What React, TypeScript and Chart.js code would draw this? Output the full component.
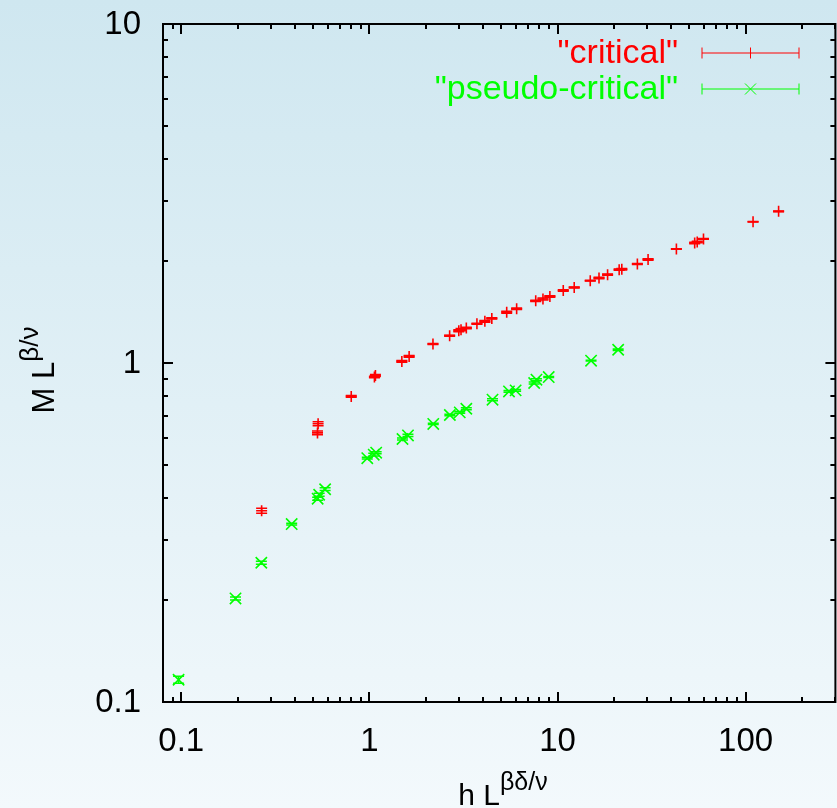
import React, { useEffect, useRef } from "react";
import { Chart, registerables } from "chart.js";

Chart.register(...registerables);

// Scaled magnetisation data: "critical" series
const criticalX = [
  0.2675, 0.534, 0.53, 0.801, 1.077, 1.064, 1.488, 1.627, 2.178, 2.671, 2.987, 3.07,
  3.276, 3.73, 4.11, 4.476, 5.37, 6.065, 7.66, 8.37, 9.11, 10.73, 12.27, 14.93,
  16.62, 18.46, 21.27, 21.97, 26.58, 30.3, 42.85, 53.6, 55.3, 59.7, 109.5, 149.7,
];
const criticalY = [
  0.3666, 0.662, 0.622, 0.797, 0.919, 0.909, 1.011, 1.046, 1.138, 1.204, 1.245, 1.254,
  1.268, 1.306, 1.327, 1.354, 1.412, 1.446, 1.525, 1.545, 1.572, 1.636, 1.671, 1.749,
  1.781, 1.822, 1.885, 1.891, 1.96, 2.021, 2.169, 2.259, 2.275, 2.323, 2.611, 2.801,
];
const criticalErr = [
  0.006, 0.009, 0.008, 0.005, 0.006, 0.005, 0.006, 0.007, 0.004, 0.004, 0.008, 0.009,
  0.007, 0.005, 0.008, 0.006, 0.009, 0.008, 0.006, 0.01, 0.008, 0.009, 0.006, 0.005,
  0.009, 0.007, 0.009, 0.01, 0.006, 0.01, 0.004, 0.01, 0.012, 0.006, 0.005, 0.006,
];

// "pseudo-critical" series
const pseudoX = [
  0.0968, 0.1943, 0.2665, 0.3864, 0.531, 0.541, 0.5818, 0.9748, 1.055, 1.087, 1.5, 1.604,
  2.186, 2.678, 3.023, 3.276, 4.514, 5.522, 5.99, 7.516, 7.73, 8.98, 15.08, 21.01,
];
const pseudoY = [
  0.1163, 0.2021, 0.2575, 0.3349, 0.3978, 0.4087, 0.4243, 0.5238, 0.5364, 0.5437, 0.5968, 0.6115,
  0.6612, 0.7023, 0.7151, 0.7329, 0.7794, 0.8245, 0.8302, 0.873, 0.893, 0.909, 1.016, 1.094,
];
const pseudoErr = [
  0.0028, 0.002, 0.0025, 0.002, 0.004, 0.004, 0.004, 0.003, 0.005, 0.004, 0.004, 0.005,
  0.003, 0.004, 0.004, 0.005, 0.005, 0.005, 0.005, 0.006, 0.006, 0.003, 0.003, 0.005,
];

const seriesNames = ['"critical"', '"pseudo-critical"'];
const seriesColors = ["#ff0000", "#00ff00"];

const xRange = [0.08, 300];
const yRange = [0.1, 10];
const xTickValues = [0.1, 1, 10, 100];
const xTickLabels = ["0.1", "1", "10", "100"];
const yTickValues = [0.1, 1, 10];
const yTickLabels = ["0.1", "1", "10"];

const FONT = '"Liberation Sans", Arial, Helvetica, sans-serif';
const CANVAS_W = 845;
const CANVAS_H = 808;

function toPoints(xs: number[], ys: number[]) {
  return xs.map((x, i) => ({ x, y: ys[i] }));
}

// vertical error bars with small caps, drawn under the markers
const errorBarPlugin = {
  id: "errorBars",
  beforeDatasetsDraw(chart: any) {
    const ctx = chart.ctx;
    const xs = chart.scales.x;
    const ys = chart.scales.y;
    chart.data.datasets.forEach((ds: any) => {
      const errs: number[] = ds.errors || [];
      ctx.save();
      ctx.strokeStyle = ds.borderColor;
      ctx.lineWidth = 1.5;
      ds.data.forEach((p: any, i: number) => {
        const e = errs[i] || 0;
        const px = xs.getPixelForValue(p.x);
        const y1 = ys.getPixelForValue(p.y - e);
        const y2 = ys.getPixelForValue(p.y + e);
        const cap = 5.5;
        ctx.beginPath();
        ctx.moveTo(px, y1);
        ctx.lineTo(px, y2);
        ctx.moveTo(px - cap, y1);
        ctx.lineTo(px + cap, y1);
        ctx.moveTo(px - cap, y2);
        ctx.lineTo(px + cap, y2);
        ctx.stroke();
      });
      ctx.restore();
    });
  },
};

function logTicks(min: number, max: number) {
  const out: { v: number; major: boolean }[] = [];
  for (let d = Math.floor(Math.log10(min)); d <= Math.ceil(Math.log10(max)); d++) {
    for (let k = 1; k <= 9; k++) {
      const v = k * Math.pow(10, d);
      if (v >= min * 0.9999 && v <= max * 1.0001) out.push({ v, major: k === 1 });
    }
  }
  return out;
}

function drawWithSup(
  ctx: CanvasRenderingContext2D,
  base: string,
  sup: string,
  cx: number,
  baseline: number,
  baseSize: number,
  supSize: number,
  rise: number
) {
  ctx.font = `${baseSize}px ${FONT}`;
  const wb = ctx.measureText(base).width;
  ctx.font = `${supSize}px ${FONT}`;
  const ws = ctx.measureText(sup).width;
  const start = cx - (wb + ws) / 2;
  ctx.textAlign = "left";
  ctx.textBaseline = "alphabetic";
  ctx.font = `${baseSize}px ${FONT}`;
  ctx.fillText(base, start, baseline);
  ctx.font = `${supSize}px ${FONT}`;
  ctx.fillText(sup, start + wb, baseline - rise);
}

// frame with inward log ticks, tick labels, axis titles and key
const framePlugin = {
  id: "gnuFrame",
  afterDraw(chart: any) {
    const ctx: CanvasRenderingContext2D = chart.ctx;
    const xs = chart.scales.x;
    const ys = chart.scales.y;
    const { left, right, top, bottom } = chart.chartArea;
    ctx.save();
    ctx.strokeStyle = "#000";
    ctx.lineWidth = 2;
    ctx.lineCap = "butt";
    ctx.strokeRect(left, top, right - left, bottom - top);

    ctx.beginPath();
    logTicks(xRange[0], xRange[1]).forEach((t) => {
      const px = Math.round(xs.getPixelForValue(t.v));
      const len = t.major ? 10 : 5;
      ctx.moveTo(px, bottom);
      ctx.lineTo(px, bottom - len);
      ctx.moveTo(px, top);
      ctx.lineTo(px, top + len);
    });
    logTicks(yRange[0], yRange[1]).forEach((t) => {
      const py = Math.round(ys.getPixelForValue(t.v));
      const len = t.major ? 10 : 5;
      ctx.moveTo(left, py);
      ctx.lineTo(left + len, py);
      ctx.moveTo(right, py);
      ctx.lineTo(right - len, py);
    });
    ctx.stroke();

    ctx.fillStyle = "#000";
    ctx.font = `33px ${FONT}`;
    ctx.textAlign = "center";
    ctx.textBaseline = "middle";
    xTickValues.forEach((v, i) => {
      ctx.fillText(xTickLabels[i], xs.getPixelForValue(v), bottom + 40);
    });
    ctx.textAlign = "right";
    yTickValues.forEach((v, i) => {
      ctx.fillText(yTickLabels[i], left - 22, ys.getPixelForValue(v) + 1);
    });

    // axis titles
    drawWithSup(ctx, "h L", "βδ/ν", 503, 805, 30, 25, 15);
    ctx.save();
    ctx.translate(54, 370);
    ctx.rotate(-Math.PI / 2);
    drawWithSup(ctx, "M L", "β/ν", 0, 0, 31, 26, 16);
    ctx.restore();

    // key
    const textRight = 678;
    const lineL = 702;
    const lineR = 799;
    chart.data.datasets.forEach((ds: any, i: number) => {
      const cy = 53 + i * 36;
      ctx.fillStyle = ds.borderColor;
      ctx.font = `34px ${FONT}`;
      ctx.textAlign = "right";
      ctx.textBaseline = "middle";
      ctx.fillText(ds.label, textRight, cy + 1);
      ctx.strokeStyle = ds.borderColor;
      ctx.lineWidth = 1;
      ctx.beginPath();
      ctx.moveTo(lineL, cy);
      ctx.lineTo(lineR, cy);
      ctx.moveTo(lineL, cy - 5.5);
      ctx.lineTo(lineL, cy + 5.5);
      ctx.moveTo(lineR, cy - 5.5);
      ctx.lineTo(lineR, cy + 5.5);
      const mx = (lineL + lineR) / 2;
      if (ds.pointStyle === "cross") {
        ctx.moveTo(mx, cy - 5.5);
        ctx.lineTo(mx, cy + 5.5);
      } else {
        ctx.moveTo(mx - 5.5, cy - 5.5);
        ctx.lineTo(mx + 5.5, cy + 5.5);
        ctx.moveTo(mx + 5.5, cy - 5.5);
        ctx.lineTo(mx - 5.5, cy + 5.5);
      }
      ctx.stroke();
    });
    ctx.restore();
  },
};

export default function App() {
  const canvasRef = useRef<HTMLCanvasElement | null>(null);

  useEffect(() => {
    const canvas = canvasRef.current;
    if (!canvas) return;
    const chart = new Chart(canvas, {
      type: "scatter",
      data: {
        datasets: [
          {
            label: seriesNames[0],
            data: toPoints(criticalX, criticalY),
            errors: criticalErr,
            borderColor: seriesColors[0],
            backgroundColor: seriesColors[0],
            pointStyle: "cross",
            pointRadius: 5.5,
            pointBorderWidth: 1.6,
            pointHoverRadius: 5.5,
          } as any,
          {
            label: seriesNames[1],
            data: toPoints(pseudoX, pseudoY),
            errors: pseudoErr,
            borderColor: seriesColors[1],
            backgroundColor: seriesColors[1],
            pointStyle: "crossRot",
            pointRadius: 8,
            pointBorderWidth: 1.6,
            pointHoverRadius: 8,
          } as any,
        ],
      },
      options: {
        animation: false,
        responsive: false,
        devicePixelRatio: 1,
        events: [],
        layout: {
          padding: { left: 163, top: 24, right: 3, bottom: CANVAS_H - 702 },
        },
        scales: {
          x: { type: "logarithmic", min: xRange[0], max: xRange[1], display: false },
          y: { type: "logarithmic", min: yRange[0], max: yRange[1], display: false },
        },
        plugins: {
          legend: { display: false },
          tooltip: { enabled: false },
        },
      },
      plugins: [errorBarPlugin, framePlugin],
    });
    return () => chart.destroy();
  }, []);

  return (
    <div
      style={{
        position: "fixed",
        left: 0,
        top: 0,
        width: 837,
        height: 808,
        overflow: "hidden",
        background: "linear-gradient(to bottom, #cfe7f0 0%, #f3f9fc 100%)",
      }}
    >
      <canvas
        ref={canvasRef}
        width={CANVAS_W}
        height={CANVAS_H}
        style={{ display: "block", width: CANVAS_W, height: CANVAS_H }}
      />
    </div>
  );
}
